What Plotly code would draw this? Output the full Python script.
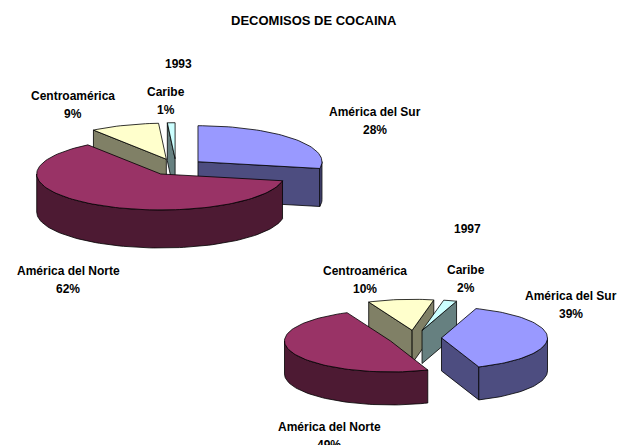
import math
import plotly.graph_objects as go

TITLE = "DECOMISOS DE COCAINA"
CATEGORIES = ["América del Sur", "América del Norte", "Centroamérica", "Caribe"]
VALUES_1993 = [28, 62, 9, 1]
VALUES_1997 = [39, 49, 10, 2]
TOP_COLORS = ["#9999FF", "#993366", "#FFFFCC", "#CCFFFF"]
SIDE_COLORS = ["#4D4D80", "#4D1A33", "#808066", "#668080"]

FONT = dict(family="Liberation Sans", size=12, color="black")
TITLE_FONT = dict(family="Liberation Sans", size=13, color="black")

PIE_1993 = dict(cx=176, cy=167, rx=124, ry=36, depth=38, explode=0.23, start=0)
PIE_1997 = dict(cx=415, cy=338, rx=106, ry=31, depth=33, explode=0.25, start=19)
LABELS_1993 = [(375, 121), (68, 280), (73, 105), (166, 101)]
LABELS_1997 = [(571, 305), (329, 436), (365, 280), (466, 279)]

fig = go.Figure()


def add_poly(xs, ys, fill):
    fig.add_trace(go.Scatter(
        x=list(xs) + [xs[0]], y=list(ys) + [ys[0]], mode="lines", fill="toself",
        fillcolor=fill, line=dict(color="black", width=0.8), hoverinfo="skip", showlegend=False,
    ))


def draw_pie(values, p):
    total = sum(values)
    slices = []
    a = p["start"]
    for i, v in enumerate(values):
        a1 = a + 360.0 * v / total
        mid = math.radians((a + a1) / 2)
        ax = p["cx"] + p["explode"] * p["rx"] * math.sin(mid)
        ay = p["cy"] - p["explode"] * p["ry"] * math.cos(mid)
        slices.append((ay, i, ax, a, a1))
        a = a1
    d = p["depth"]

    def pt(ax, ay, deg):
        r = math.radians(deg)
        return ax + p["rx"] * math.sin(r), ay - p["ry"] * math.cos(r)

    for ay, i, ax, a0, a1 in sorted(slices):
        n = max(2, int((a1 - a0) / 2) + 1)
        angs = [a0 + (a1 - a0) * k / (n - 1) for k in range(n)]
        # radial faces, only when they look at the viewer
        for deg, normal in ((a0, a0 - 90), (a1, a1 + 90)):
            if math.cos(math.radians(normal)) < 0:
                x, y = pt(ax, ay, deg)
                add_poly([ax, x, x, ax], [ay, y, y + d, ay + d], SIDE_COLORS[i])
        # outer rim: the part of the arc that faces down
        lo, hi = max(a0, 90), min(a1, 270)
        if hi > lo:
            m = max(2, int((hi - lo) / 2) + 1)
            rim = [lo + (hi - lo) * k / (m - 1) for k in range(m)]
            top = [pt(ax, ay, g) for g in rim]
            xs = [t[0] for t in top] + [t[0] for t in reversed(top)]
            ys = [t[1] for t in top] + [t[1] + d for t in reversed(top)]
            add_poly(xs, ys, SIDE_COLORS[i])
        pts = [pt(ax, ay, g) for g in angs]
        add_poly([ax] + [q[0] for q in pts], [ay] + [q[1] for q in pts], TOP_COLORS[i])


draw_pie(VALUES_1993, PIE_1993)
draw_pie(VALUES_1997, PIE_1997)


def label(x, y, text, font=FONT):
    fig.add_annotation(x=x, y=y, text=f"<b>{text}</b>", showarrow=False, xanchor="center",
                       yanchor="middle", font=font, align="center")


def pie_label(x, y, name, v):
    label(x, y - 9, name)
    label(x, y + 9, f"{v}%")


label(314, 20, TITLE, TITLE_FONT)
label(178, 64, "1993")
label(467, 229, "1997")
for name, v, (x, y) in zip(CATEGORIES, VALUES_1993, LABELS_1993):
    pie_label(x, y, name, v)
for name, v, (x, y) in zip(CATEGORIES, VALUES_1997, LABELS_1997):
    pie_label(x, y, name, v)

fig.update_layout(
    width=632, height=445, margin=dict(l=0, r=0, t=0, b=0),
    paper_bgcolor="white", plot_bgcolor="white", showlegend=False,
    xaxis=dict(range=[0, 632], visible=False, fixedrange=True),
    yaxis=dict(range=[445, 0], visible=False, fixedrange=True),
)
fig.write_html("out.html", config={"displayModeBar": False},
               post_script="document.body.style.margin='0';document.body.style.overflow='hidden';")
